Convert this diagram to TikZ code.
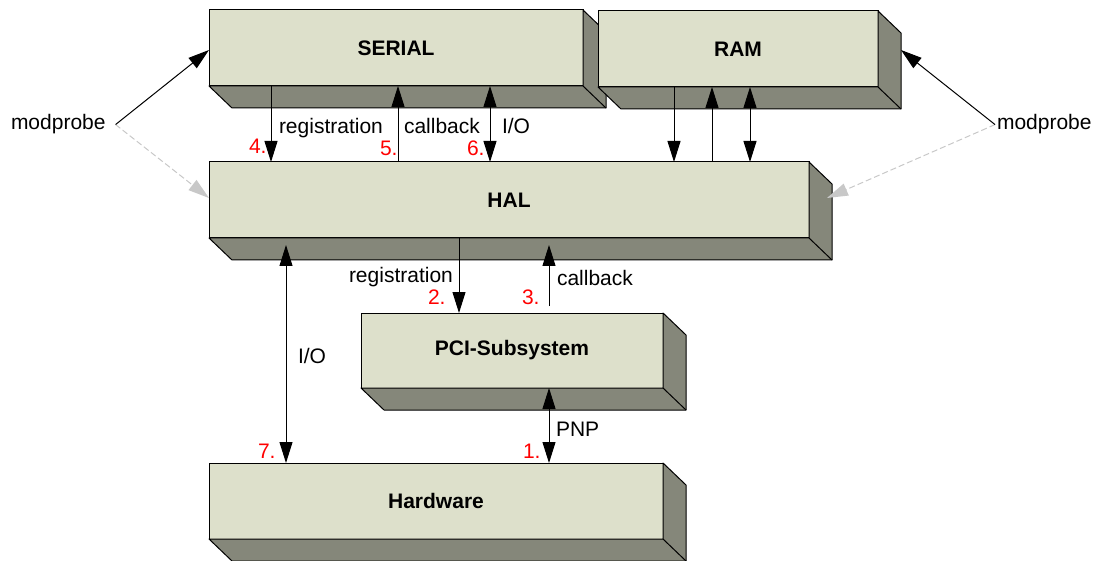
\documentclass[tikz,border=0pt]{standalone}
\usepackage{fontspec}
\setmainfont{Liberation Sans}
\usetikzlibrary{arrows.meta,calc}
\definecolor{face}{HTML}{DDE0CB}
\definecolor{side}{HTML}{85877A}
\definecolor{lgray}{HTML}{C8C8C8}
\definecolor{numred}{HTML}{FF0000}
\tikzset{
  front/.style={draw=black, line width=1pt, fill=face, inner sep=0pt, outer sep=0pt,
    font=\fontsize{21}{25}\selectfont\bfseries},
  sideface/.style={draw=black, line width=1pt, fill=side, line join=round},
  conn/.style={line width=1pt, draw=black},
  tipone/.style={-{Triangle[length=21pt,width=13pt]}},
  tiptwo/.style={{Triangle[length=21pt,width=13pt]}-{Triangle[length=21pt,width=13pt]}},
  ghost/.style={line width=1pt, draw=lgray, dash pattern=on 6pt off 3pt,
    -{Triangle[length=21pt,width=13pt,fill=lgray,line width=0pt]}},
  lbl/.style={inner sep=0pt, outer sep=0pt, font=\fontsize{21}{25}\selectfont, anchor=base west},
  num/.style={lbl, text=numred},
}
\newcommand\tdbox[6]{%
  \node[front, minimum width=#4pt, minimum height=#5pt, anchor=north west] (#1) at (#2,#3) {#6};
  \filldraw[sideface] (#1.south west) -- ++(23,22) -- ($(#1.south east)+(23,22)$)
    -- ($(#1.north east)+(23,22)$) -- (#1.north east) -- (#1.south east) -- cycle;
  \draw[sideface] (#1.south east) -- ++(23,22);
}
\begin{document}
\begin{tikzpicture}[x=1pt,y=-1pt]
\useasboundingbox (0,0) rectangle (1105,561);
\tdbox{serial}{209}{10}{374}{76}{SERIAL}
\tdbox{ram}{598}{11}{280}{76}{RAM}
\tdbox{hal}{209}{162}{600}{76}{HAL}
\tdbox{pci}{361}{313}{302}{75}{PCI-Subsystem}
\tdbox{hw}{209}{463}{454}{76}{Hardware}

% SERIAL <-> HAL
\coordinate (s1) at ($(serial.south west)+(62,0)$);
\coordinate (s2) at ($(serial.south west)+(189,0)$);
\coordinate (s3) at ($(serial.south west)+(281,0)$);
\draw[conn,tipone] (s1) -- (s1 |- hal.north);
\draw[conn,tipone] (s2 |- hal.north) -- (s2);
\draw[conn,tiptwo] (s3) -- (s3 |- hal.north);

% RAM <-> HAL
\coordinate (r1) at ($(ram.south west)+(76,0)$);
\coordinate (r2) at ($(ram.south west)+(114,0)$);
\coordinate (r3) at ($(ram.south west)+(152,0)$);
\draw[conn,tipone] (r1) -- (r1 |- hal.north);
\draw[conn,tipone] (r2 |- hal.north) -- (r2);
\draw[conn,tiptwo] (r3) -- (r3 |- hal.north);

% HAL <-> PCI
\coordinate (h1) at ($(hal.south west)+(250,0)$);
\draw[conn,tipone] (h1) -- (h1 |- pci.north);
\coordinate (p1) at ($(pci.north west)+(188,-7)$);
\coordinate (h2) at ($(hal.south west)+(340,7)$);
\draw[conn,tipone] (p1) -- (h2);

% HAL <-> Hardware
\coordinate (h3) at ($(hal.south west)+(77,7)$);
\draw[conn,tiptwo] (h3) -- (h3 |- hw.north);

% PCI <-> Hardware
\coordinate (p2) at ($(pci.south west)+(188,0)$);
\draw[conn,tiptwo] (p2) -- (p2 |- hw.north);

% modprobe
\node[lbl, inner xsep=10pt] (mpl) at (1,130) {modprobe};
\node[lbl, inner xsep=2pt] (mpr) at (995,130) {modprobe};
\draw[ghost] (mpl.east) -- ($(hal.north west)+(0,36)$);
\draw[conn,tipone] (mpl.east) -- ($(serial.north west)+(0,40)$);
\draw[ghost] (mpr.west) -- ($(hal.north east)+(18,36)$);
\draw[conn,tipone] (mpr.west) -- ($(ram.north east)+(23,39)$);

% labels
\node[lbl] (l1) at (279,134) {registration};
\node[lbl] (l2) at (404,134) {callback};
\node[lbl] (l3) at (502,134) {I/O};
\node[num] (n4) at (249,154) {4.};
\node[num] (n5) at (380,156) {5.};
\node[num] (n6) at (467,156) {6.};
\node[lbl] (l4) at (349,283) {registration};
\node[lbl] (l5) at (557,285) {callback};
\node[num] (n2) at (428,304) {2.};
\node[num] (n3) at (522,304) {3.};
\node[lbl] (l6) at (298,363) {I/O};
\node[lbl] (l7) at (556,436) {PNP};
\node[num] (n1) at (523,458) {1.};
\node[num] (n7) at (258,458) {7.};
\end{tikzpicture}
\end{document}
